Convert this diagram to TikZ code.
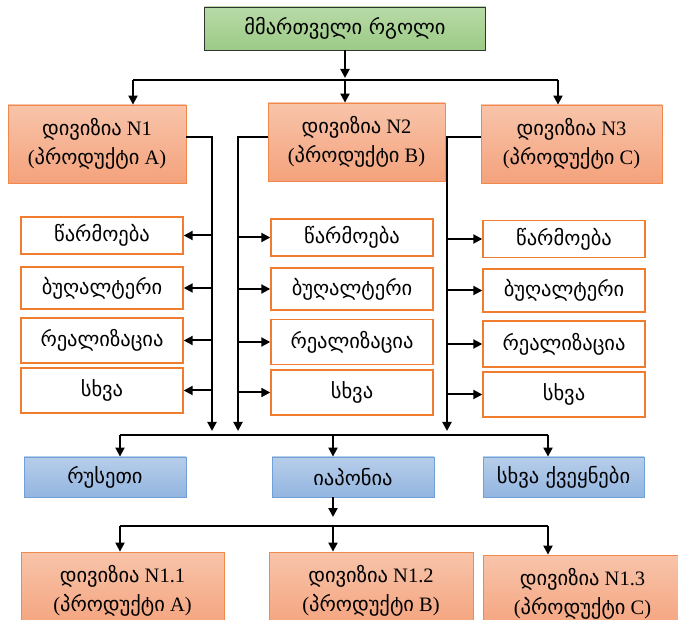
\documentclass[tikz,border=0pt]{standalone}
\usepackage{fontspec}
\setmainfont{Liberation Serif}
\newfontfamily\geo{DejaVu Sans}
\usetikzlibrary{arrows.meta}
\definecolor{orangeTop}{HTML}{F8C4AA}
\definecolor{orangeBot}{HTML}{F4A27C}
\definecolor{orangeLine}{HTML}{F0894A}
\definecolor{subLine}{HTML}{F07C30}
\definecolor{greenTop}{HTML}{B8DAA7}
\definecolor{greenBot}{HTML}{9CCA86}
\definecolor{blueTop}{HTML}{B7CEEA}
\definecolor{blueBot}{HTML}{93B5E0}
\definecolor{blueLine}{HTML}{6FA0D8}
\tikzset{
  box/.style={rectangle, inner sep=0pt, align=center, font=\fontsize{20.5}{29}\selectfont},
  headbox/.style={box, draw=black!80, line width=0.8pt, top color=greenTop, bottom color=greenBot},
  divbox/.style={box, draw=orangeLine, line width=0.8pt, top color=orangeTop, bottom color=orangeBot},
  subbox/.style={box, draw=subLine, line width=1.4pt, fill=white, minimum width=162pt},
  cbox/.style={box, draw=blueLine, line width=0.8pt, top color=blueTop, bottom color=blueBot, minimum height=40pt},
  arr/.style={line width=2pt, -{Triangle[length=9pt,width=9pt]}},
  ln/.style={line width=2pt}
}
\newcommand{\gt}[1]{{\geo #1}}
\begin{document}
\begin{tikzpicture}[x=1pt,y=-1pt]
\useasboundingbox (0,0) rectangle (678,620);
\clip (0,0) rectangle (678,620);

% management level
\node[headbox, minimum width=281pt, minimum height=43pt] (top) at (345,28.5) {\gt{მმართველი რგოლი}};

% divisions
\node[divbox, minimum width=178pt, minimum height=78pt] (d1) at (97,144) {\gt{დივიზია} N1\\(\gt{პროდუქტი} A)};
\node[divbox, minimum width=177pt, minimum height=78pt] (d2) at (356.5,142) {\gt{დივიზია} N2\\(\gt{პროდუქტი} B)};
\node[divbox, minimum width=181pt, minimum height=78pt] (d3) at (571.5,144) {\gt{დივიზია} N3\\(\gt{პროდუქტი} C)};

% functions of division N1
\node[subbox, minimum height=37pt] (a1) at (102,235.5) {\gt{წარმოება}};
\node[subbox, minimum height=42pt] (a2) at (102,288) {\gt{ბუღალტერი}};
\node[subbox, minimum height=45pt] (a3) at (102,340.5) {\gt{რეალიზაცია}};
\node[subbox, minimum height=45pt] (a4) at (102,390.5) {\gt{სხვა}};
% functions of division N2
\node[subbox, minimum height=37pt] (b1) at (352,237.5) {\gt{წარმოება}};
\node[subbox, minimum height=42pt] (b2) at (352,289) {\gt{ბუღალტერი}};
\node[subbox, minimum height=45pt] (b3) at (352,342) {\gt{რეალიზაცია}};
\node[subbox, minimum height=45pt] (b4) at (352,392.5) {\gt{სხვა}};
% functions of division N3
\node[subbox, minimum height=37pt] (c1) at (564,239) {\gt{წარმოება}};
\node[subbox, minimum height=43pt] (c2) at (564,290.5) {\gt{ბუღალტერი}};
\node[subbox, minimum height=46pt] (c3) at (564,344) {\gt{რეალიზაცია}};
\node[subbox, minimum height=45pt] (c4) at (564,394.5) {\gt{სხვა}};

% countries
\node[cbox, minimum width=162pt] (rus) at (105,477) {\gt{რუსეთი}};
\node[cbox, minimum width=162pt] (jap) at (353,477) {\gt{იაპონია}};
\node[cbox, minimum width=161pt] (oth) at (563.5,477) {\gt{სხვა ქვეყნები}};

% sub-divisions
\node[divbox, minimum width=203pt, minimum height=78pt] (e1) at (122.5,591) {\gt{დივიზია} N1.1\\(\gt{პროდუქტი} A)};
\node[divbox, minimum width=204pt, minimum height=78pt] (e2) at (371,591) {\gt{დივიზია} N1.2\\(\gt{პროდუქტი} B)};
\node[divbox, minimum width=199pt, minimum height=78pt] (e3) at (582.5,594) {\gt{დივიზია} N1.3\\(\gt{პროდუქტი} C)};

% top distribution bar
\coordinate (t0) at (345,78);
\coordinate (tL) at (133,80);
\coordinate (tM) at (345,80);
\coordinate (tR) at (558,80);
\draw[arr] (top.south) -- (t0);
\draw[ln] (tL) -- (tR);
\draw[arr] (tL) -- (tL |- d1.north);
\draw[arr] (tM) -- (tM |- d2.north);
\draw[arr] (tR) -- (tR |- d3.north);

% division trunks
\coordinate (v1a) at (212,137);
\coordinate (v1b) at (212,431);
\coordinate (v2a) at (238,137);
\coordinate (v2b) at (238,431);
\coordinate (v3a) at (447,137);
\coordinate (v3b) at (447,431);
\draw[arr] (d1.east |- v1a) -- (v1a) -- (v1b);
\draw[arr] (d2.west |- v2a) -- (v2a) -- (v2b);
\draw[arr] (d3.west |- v3a) -- (v3a) -- (v3b);

% branches to functions
\foreach \n in {a1,a2,a3,a4} \draw[arr] (v1a |- \n.east) -- (\n.east);
\foreach \n in {b1,b2,b3,b4} \draw[arr] (v2a |- \n.west) -- (\n.west);
\foreach \n in {c1,c2,c3,c4} \draw[arr] (v3a |- \n.west) -- (\n.west);

% country bar
\coordinate (mL) at (120,435);
\coordinate (mM) at (333,435);
\coordinate (mR) at (548,435);
\draw[ln] (mL) -- (mR);
\draw[arr] (mL) -- (mL |- rus.north);
\draw[arr] (mM) -- (mM |- jap.north);
\draw[arr] (mR) -- (mR |- oth.north);

% sub-division bar
\coordinate (s0) at (333,517);
\coordinate (sL) at (120,526);
\coordinate (sM) at (333,526);
\coordinate (sR) at (548,526);
\draw[arr] (jap.south -| s0) -- (s0);
\draw[ln] (sL) -- (sR);
\draw[arr] (sL) -- (sL |- e1.north);
\draw[arr] (sM) -- (sM |- e2.north);
\draw[arr] (sR) -- (sR |- e3.north);
\end{tikzpicture}
\end{document}
